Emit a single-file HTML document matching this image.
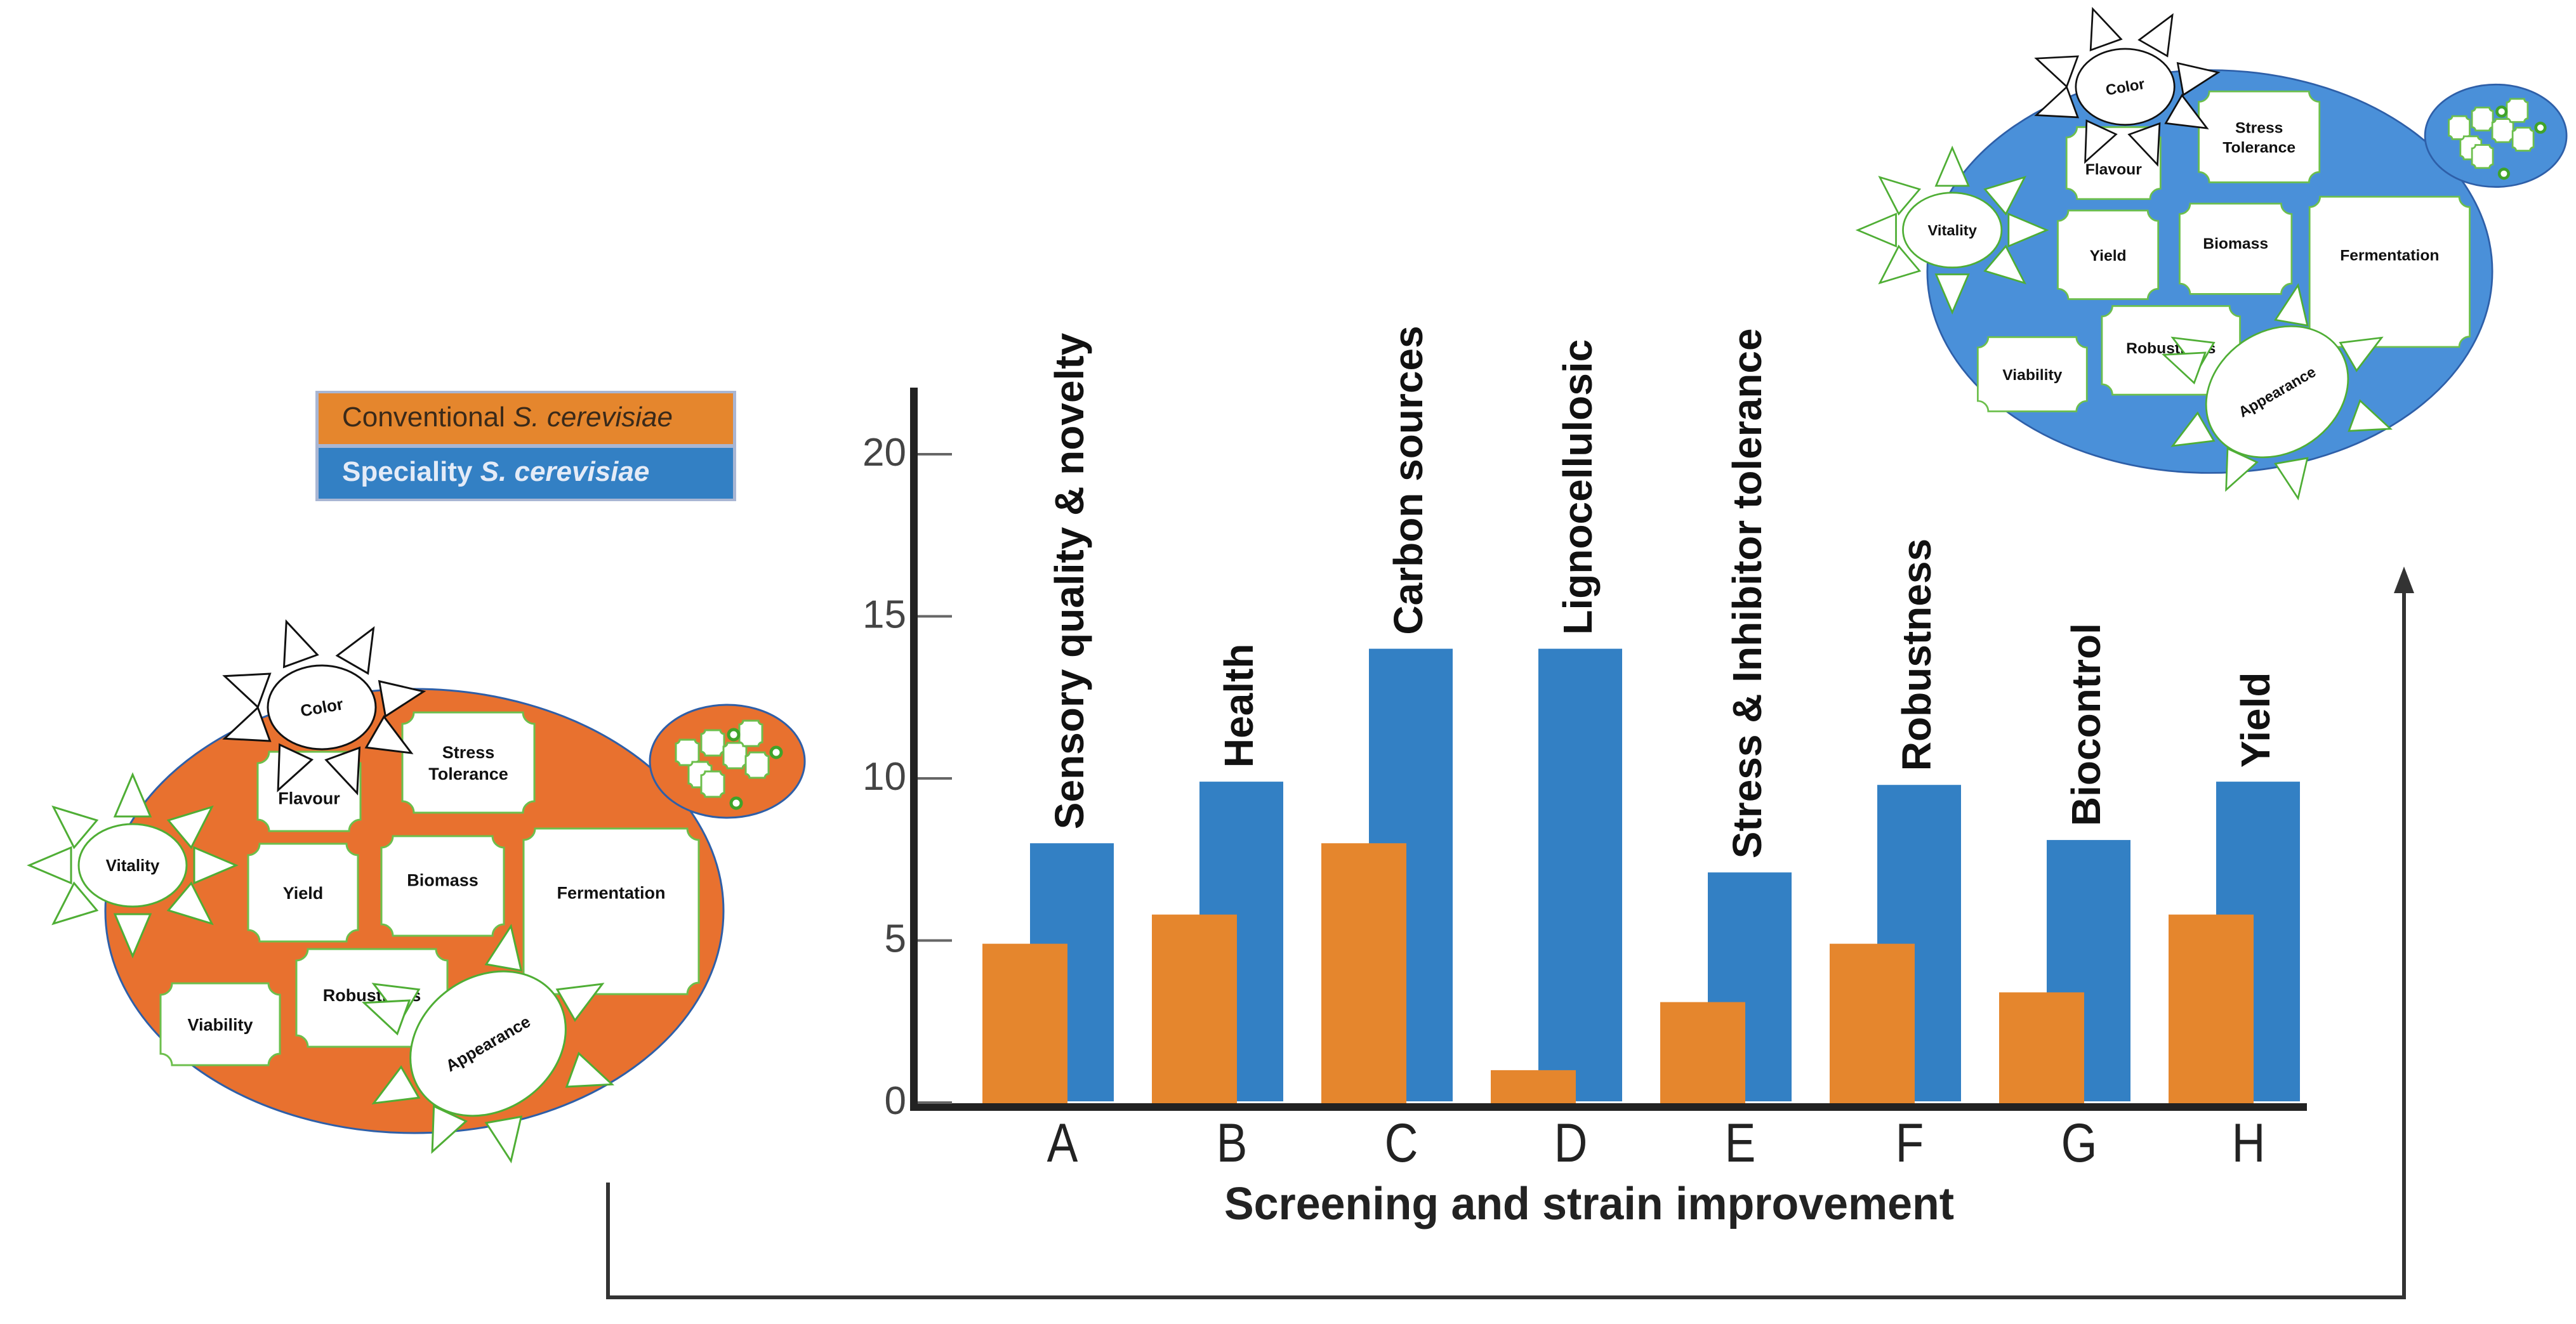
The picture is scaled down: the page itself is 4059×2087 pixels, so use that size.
<!DOCTYPE html>
<html><head><meta charset="utf-8">
<style>
html,body{margin:0;padding:0;background:#fff;}
svg{display:block;font-family:"Liberation Sans",sans-serif;}
</style></head>
<body>
<svg id="fig" width="4059" height="2087" viewBox="0 0 4059 2087" xmlns="http://www.w3.org/2000/svg">
  <g id="diagrams"></g>
  <g id="legend">
    <rect x="497" y="616" width="663" height="174" fill="#a9b6d3"/>
    <rect x="502" y="620" width="653" height="80" fill="#e5862d"/>
    <rect x="502" y="706" width="653" height="80" fill="#3380c4"/>
    <text x="539" y="672" font-size="44" fill="#3a2a1a">Conventional <tspan font-style="italic"> S. cerevisiae</tspan></text>
    <text x="539" y="758" font-size="44" font-weight="bold" fill="#e4ebf7">Speciality <tspan font-style="italic">S. cerevisiae</tspan></text>
  </g>
  <g id="chart"></g>
  <g id="flow">
    <polyline points="958,1864 958,2045 3788,2045 3788,920" fill="none" stroke="#333" stroke-width="6"/>
    <polygon points="3772,935 3788,893 3804,935" fill="#333"/>
  </g>
</svg>
<script>
// ---- chart data ----
const categories = ["A","B","C","D","E","F","G","H"];
const categoryTitles = ["Sensory quality & novelty","Health","Carbon sources","Lignocellulosic","Stress & Inhibitor tolerance","Robustness","Biocontrol","Yield"];
const conventionalValues = [4.9, 5.8, 8.0, 1.0, 3.1, 4.9, 3.4, 5.8];
const specialityValues = [8.0, 9.9, 14.0, 14.0, 7.1, 9.8, 8.1, 9.9];
const yTicks = [0, 5, 10, 15, 20];

const NS = "http://www.w3.org/2000/svg";
function mk(tag, attrs, parent){
  const e = document.createElementNS(NS, tag);
  for (const k in attrs) e.setAttribute(k, attrs[k]);
  if (parent) parent.appendChild(e);
  return e;
}
// axis functions
const Y0 = 1738, Y20 = 716, yMax = 20;
function yScale(v){ return Y0 - (v / yMax) * (Y0 - Y20); }
const bandStart = 1548, bandStep = 267;
function xBand(i){ return bandStart + i * bandStep; }

const chart = document.getElementById("chart");
// bars
categories.forEach((c, i) => {
  const x = xBand(i);
  const bTop = yScale(specialityValues[i]);
  const b = mk("rect", {x: x + 75, y: bTop, width: 132, height: 1736 - bTop, fill: "#3380c4"}, chart);
  
  
  const oTop = yScale(conventionalValues[i]);
  const o = mk("rect", {x: x, y: oTop, width: 134, height: 1745 - oTop, fill: "#e5862d"}, chart);
  
  
  const t = mk("text", {x: 0, y: 0, "font-size": 64, "font-weight": "bold", fill: "#111",
    transform: "translate(" + (x + 75 + 66 + 18) + "," + (bTop - 22) + ") rotate(-90)"}, chart);
  t.textContent = categoryTitles[i];
  
  
  const l = mk("text", {x: x + 126, y: 1831, "font-size": 86, "text-anchor": "middle", fill: "#222",
    transform: "translate(" + (x + 126) * 0.15 + ",0) scale(0.85,1)"}, chart);
  l.textContent = c;
  
  
});
// axes
const xa = mk("rect", {x: 1434, y: 1739, width: 2201, height: 12, fill: "#222"}, chart);


const ya = mk("rect", {x: 1434, y: 611, width: 12, height: 1140, fill: "#222"}, chart);


yTicks.forEach(v => {
  const y = yScale(v);
  const tk = mk("line", {x1: 1446, x2: 1500, y1: y, y2: y, stroke: "#666", "stroke-width": 4}, chart);
  
  
  const tl = mk("text", {x: 1428, y: y + 18, "font-size": 62, "text-anchor": "end", fill: "#444"}, chart);
  tl.textContent = v;
  
  
});
const xt = mk("text", {x: 1929, y: 1922, "font-size": 72, "font-weight": "bold", fill: "#222", textLength: 1150, lengthAdjust: "spacingAndGlyphs"}, chart);
xt.textContent = "Screening and strain improvement";



// ---- decorative diagrams ----
const diagrams = document.getElementById("diagrams");
function boxPath(x, y, w, h, r){
  return "M"+(x+r)+","+y+" H"+(x+w-r)+" A"+r+","+r+" 0 0 0 "+(x+w)+","+(y+r)+
    " V"+(y+h-r)+" A"+r+","+r+" 0 0 0 "+(x+w-r)+","+(y+h)+" H"+(x+r)+
    " A"+r+","+r+" 0 0 0 "+x+","+(y+h-r)+" V"+(y+r)+" A"+r+","+r+" 0 0 0 "+(x+r)+","+y+" Z";
}
function spikes(g, cx, cy, rx, ry, angles, stroke, name){
  angles.forEach((a, k) => {
    const r = a * Math.PI / 180, c = Math.cos(r), s = Math.sin(r);
    const bx = cx + c * (rx + 12), by = cy + s * (ry + 12);
    const tx = cx + c * (rx + 78), ty = cy + s * (ry + 78);
    const px = -s * 28, py = c * 28;
    const p = mk("polygon", {points: (bx+px)+","+(by+py)+" "+(bx-px)+","+(by-py)+" "+tx+","+ty,
      fill: "#fff", stroke: stroke, "stroke-width": 3}, g);
    
    
  });
}
function drawDiagram(tx, ty, sx, sy, fill, name){
  const g = mk("g", {transform: "translate("+tx+","+ty+") scale("+sx+","+sy+")"}, diagrams);
  
  
  const big = mk("ellipse", {cx: 0, cy: 0, rx: 487, ry: 350, fill: fill, stroke: "#2e5fa8", "stroke-width": 3}, g);
  
  
  const sm = mk("ellipse", {cx: 493, cy: -236, rx: 122, ry: 89, fill: fill, stroke: "#2e5fa8", "stroke-width": 3}, g);
  
  
  [[430,-250],[470,-265],[505,-245],[450,-215],[540,-230],[470,-200],[530,-280]].forEach(p => {
    const q = mk("path", {d: boxPath(p[0]-18, p[1]-20, 36, 40, 6), fill: "#fff", stroke: "#6cbf4c", "stroke-width": 3}, g);
    
    
  });
  [[503,-278],[570,-250],[507,-170]].forEach(p => {
    const d = mk("circle", {cx: p[0], cy: p[1], r: 8, fill: "#fff", stroke: "#3fa32a", "stroke-width": 5}, g);
    
    
  });
  const boxes = [
    ["Flavour", -247, -251, 162, 125, [0, 10]],
    ["Stress|Tolerance", -19, -313, 208, 158, [0, 0]],
    ["Yield", -262, -106, 173, 154, [0, 0]],
    ["Biomass", -52, -118, 193, 157, [0, -10]],
    ["Fermentation", 172, -130, 276, 261, [5, -30]],
    ["Robustness", -186, 60, 238, 154, [0, -5]],
    ["Viability", -400, 114, 188, 129, [0, 0]]
  ];
  boxes.forEach(b => {
    const p = mk("path", {d: boxPath(b[1], b[2], b[3], b[4], 18), fill: "#fff", stroke: "#6cbf4c", "stroke-width": 3}, g);
    
    
    const lines = b[0].split("|");
    lines.forEach((ln, k) => {
      const t = mk("text", {x: b[1] + b[3]/2, y: b[2] + b[4]/2 + 10 + (k - (lines.length-1)/2) * 34 + (b[5][1] || 0),
        "font-size": 27, "font-weight": "bold", "text-anchor": "middle", fill: "#111"}, g);
      t.textContent = ln;
      
      
    });
  });
  // Color sun
  spikes(g, -146, -321, 85, 66, [-110,-60,-160,-10,160,30,70,115], "#111", "color");
  const ce = mk("ellipse", {cx: -146, cy: -321, rx: 85, ry: 66, fill: "#fff", stroke: "#111", "stroke-width": 3}, g);
  
  
  const ct = mk("text", {x: -146, y: -312, "font-size": 26, "font-weight": "bold", "text-anchor": "middle", fill: "#111", transform: "rotate(-10,-146,-321)"}, g);
  ct.textContent = "Color";
  
  
  // Vitality
  spikes(g, -444, -72, 85, 65, [-90,-140,-40,180,0,140,40,90], "#4fae35", "vitality");
  const ve = mk("ellipse", {cx: -444, cy: -72, rx: 85, ry: 65, fill: "#fff", stroke: "#4fae35", "stroke-width": 3}, g);
  
  
  const vt = mk("text", {x: -444, y: -63, "font-size": 26, "font-weight": "bold", "text-anchor": "middle", fill: "#111"}, g);
  vt.textContent = "Vitality";
  
  
  // Appearance
  spikes(g, 116, 209, 130, 110, [-150,-80,-30,20,80,115,150,200], "#4fae35", "appearance");
  const ae = mk("ellipse", {cx: 0, cy: 0, rx: 130, ry: 105, fill: "#fff", stroke: "#4fae35", "stroke-width": 3, transform: "translate(116,209) rotate(-35)"}, g);
  
  
  const at = mk("text", {x: 0, y: 9, "font-size": 26, "font-weight": "bold", "text-anchor": "middle", fill: "#111", transform: "translate(116,209) rotate(-30)"}, g);
  at.textContent = "Appearance";
  
  
}
drawDiagram(653, 1436, 1, 1, "#e8712f", "conventional-yeast-diagram");
drawDiagram(3482, 428, 0.914, 0.907, "#4a90d9", "speciality-yeast-diagram");
</script>
</body></html>
